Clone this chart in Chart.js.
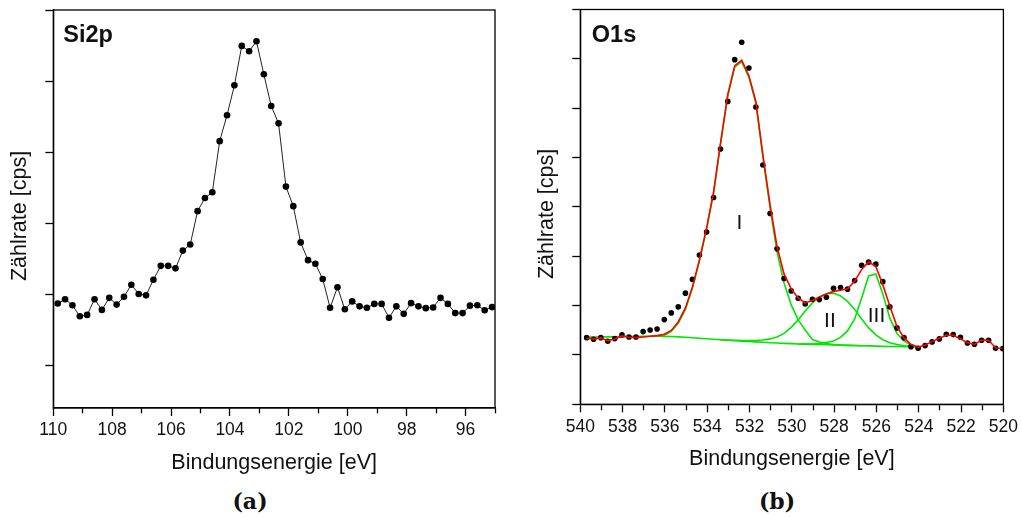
<!DOCTYPE html>
<html>
<head>
<meta charset="utf-8">
<script src="https://cdn.jsdelivr.net/npm/chart.js@4.4.1/dist/chart.umd.min.js"></script>
<style>
  html, body { margin: 0; padding: 0; background: #fff; }
  body { width: 1022px; height: 517px; position: relative; overflow: hidden; }
  .panel { position: absolute; top: 0; height: 480px; }
  #panelA { left: 0; width: 510px; }
  #panelB { left: 510px; width: 512px; }
  .caption {
    position: absolute; top: 488px; line-height: 26px;
    font: bold 22px "DejaVu Serif", serif; color: #111;
    transform: translateX(-50%);
  }
</style>
</head>
<body>
<div class="panel" id="panelA"><canvas id="si2p" width="510" height="480"></canvas></div>
<div class="panel" id="panelB"><canvas id="o1s" width="512" height="480"></canvas></div>
<div class="caption" style="left:250px">(a)</div>
<div class="caption" style="left:777px">(b)</div>
<script>
// --- Si2p region -----------------------------------------------------------
const si2pEnergy = [109.85, 109.60, 109.35, 109.10, 108.85, 108.60, 108.35, 108.10, 107.85, 107.60,
  107.35, 107.10, 106.85, 106.60, 106.35, 106.10, 105.85, 105.60, 105.35, 105.10,
  104.85, 104.60, 104.35, 104.10, 103.85, 103.60, 103.35, 103.10, 102.85, 102.60,
  102.35, 102.10, 101.85, 101.60, 101.35, 101.10, 100.85, 100.60, 100.35, 100.10,
  99.85, 99.60, 99.35, 99.10, 98.85, 98.60, 98.35, 98.10, 97.85, 97.60,
  97.35, 97.10, 96.85, 96.60, 96.35, 96.10, 95.85, 95.60, 95.35, 95.10];
const si2pCounts = [1870, 1930, 1845, 1690, 1710, 1930, 1780, 1950, 1855, 1965,
  2135, 2005, 1985, 2205, 2400, 2400, 2365, 2615, 2700, 3170,
  3355, 3435, 4155, 4520, 4940, 5495, 5420, 5560, 5095, 4650,
  4405, 3515, 3240, 2730, 2480, 2430, 2215, 1810, 2100, 1790,
  1900, 1830, 1810, 1865, 1865, 1670, 1830, 1725, 1875, 1830,
  1805, 1815, 1950, 1865, 1735, 1735, 1840, 1845, 1775, 1820];
const si2pRange = [95, 110];
const si2pCountRange = [400, 6000];
const si2pCountTicks = [1000, 2000, 3000, 4000, 5000, 6000];

// --- O1s region: measured points, fit envelope, background and components ---
const o1sEnergy = [539.70, 539.37, 539.03, 538.70, 538.37, 538.03, 537.70, 537.37, 537.03, 536.70,
  536.37, 536.03, 535.70, 535.37, 535.03, 534.70, 534.37, 534.03, 533.70, 533.37,
  533.03, 532.70, 532.37, 532.03, 531.70, 531.37, 531.03, 530.70, 530.37, 530.03,
  529.70, 529.37, 529.03, 528.70, 528.37, 528.03, 527.70, 527.37, 527.03, 526.70,
  526.37, 526.03, 525.70, 525.37, 525.03, 524.70, 524.37, 524.03, 523.70, 523.37,
  523.03, 522.70, 522.37, 522.03, 521.70, 521.37, 521.03, 520.70, 520.37, 520.03];
const o1sCounts = [1351, 1318, 1351, 1278, 1331, 1406, 1365, 1365, 1473, 1507,
  1527, 1716, 1852, 1974, 2252, 2531, 3024, 3489, 4191, 5172,
  6138, 6984, 7335, 6815, 6024, 4848, 3866, 3150, 2548, 2298,
  2150, 2034, 2130, 2122, 2170, 2353, 2365, 2333, 2507, 2819,
  2880, 2840, 2485, 1974, 1548, 1351, 1168, 1136, 1189, 1264,
  1325, 1420, 1412, 1359, 1243, 1217, 1298, 1298, 1136, 1128];
const o1sEnvelope = [1339, 1325, 1345, 1290, 1325, 1385, 1359, 1351, 1365, 1379,
  1391, 1420, 1497, 1669, 1953, 2379, 2927, 3576, 4306, 5300,
  6274, 6862, 6970, 6659, 6132, 5057, 4043, 3197, 2643, 2339,
  2156, 2055, 2105, 2176, 2237, 2288, 2312, 2339, 2491, 2734,
  2886, 2791, 2420, 1994, 1574, 1345, 1213, 1156, 1203, 1270,
  1339, 1400, 1400, 1325, 1249, 1217, 1298, 1304, 1142, 1136];
// Shirley background over the fitted window (first 48 energies)
const o1sBackground = [1361, 1363, 1365, 1367, 1369, 1371, 1373, 1375, 1377, 1379,
  1379, 1377, 1373, 1367, 1359, 1349, 1339, 1329, 1318, 1308,
  1298, 1288, 1280, 1272, 1264, 1256, 1247, 1241, 1235, 1229,
  1223, 1219, 1215, 1211, 1207, 1203, 1199, 1195, 1191, 1187,
  1183, 1179, 1174, 1172, 1170, 1168, 1166, 1164];
// components (background included); each starts at the given energy index
const o1sPeakIStart = 9;
const o1sPeakI = [1379, 1385, 1402, 1477, 1639, 1923, 2349, 2897, 3546, 4276,
  5270, 6243, 6832, 6943, 6629, 6101, 5016, 3982, 3089, 2460,
  2014, 1710, 1507, 1314, 1264, 1231, 1213, 1201, 1195, 1191, 1187];
const o1sPeakIIStart = 19;
const o1sPeakII = [1308, 1304, 1298, 1294, 1292, 1294, 1304, 1325, 1365, 1436,
  1558, 1710, 1892, 2055, 2176, 2241, 2252, 2197, 2085, 1923,
  1730, 1548, 1406, 1308, 1247, 1211, 1187, 1174, 1166];
const o1sPeakIIIStart = 30;
const o1sPeakIII = [1223, 1223, 1223, 1233, 1254, 1284, 1355, 1487, 1730, 2156,
  2602, 2643, 2237, 1751, 1436, 1284, 1203, 1172];
const o1sRange = [520, 540];
const o1sCountRange = [0, 8000];
const o1sCountTicks = [0, 1000, 2000, 3000, 4000, 5000, 6000, 7000, 8000];

const peakNames = ['I', 'II', 'III'];
const peakNameEnergy = [532.48, 528.2, 526.0];
const peakNameCounts = [3660, 1690, 1790];

const yTitle = 'Zählrate [cps]';
const xTitle = 'Bindungsenergie [eV]';

const FONT = '"Liberation Sans", Arial, sans-serif';
Chart.defaults.font.family = FONT;
Chart.defaults.color = '#111';

const pairs = (xs, ys, from = 0) => ys.map((y, i) => ({ x: xs[from + i], y }));

// box around the plot area, spectrum name, y title and peak names
const decorations = {
  id: 'decorations',
  afterDraw(chart, args, opts) {
    const { ctx, chartArea: a } = chart;
    ctx.save();
    ctx.strokeStyle = '#000';
    ctx.lineWidth = 1.3;
    ctx.strokeRect(a.left, a.top, a.right - a.left, a.bottom - a.top);

    ctx.fillStyle = '#111';
    ctx.font = 'bold 23.5px ' + FONT;
    ctx.textAlign = 'left';
    ctx.textBaseline = 'alphabetic';
    ctx.fillText(opts.name, a.left + opts.nameDx, a.top + 32);

    ctx.save();
    ctx.font = '21.5px ' + FONT;
    ctx.textAlign = 'center';
    ctx.textBaseline = 'middle';
    ctx.translate(a.left - 33, (a.top + a.bottom) / 2 + 7);
    ctx.rotate(-Math.PI / 2);
    ctx.fillText(yTitle, 0, 0);
    ctx.restore();

    if (opts.peaks) {
      const { x, y } = chart.scales;
      ctx.font = '21px ' + FONT;
      ctx.textAlign = 'center';
      ctx.textBaseline = 'middle';
      peakNames.forEach((label, i) => {
        ctx.fillText(label, x.getPixelForValue(peakNameEnergy[i]), y.getPixelForValue(peakNameCounts[i]));
      });
    }
    ctx.restore();
  }
};

function makeOptions(cfg) {
  return {
    responsive: false,
    animation: false,
    devicePixelRatio: 1,
    events: [],
    layout: { padding: { left: 0, top: cfg.top, right: cfg.right, bottom: 0 } },
    plugins: {
      legend: { display: false },
      tooltip: { enabled: false },
      decorations: { name: cfg.name, nameDx: cfg.nameDx, peaks: cfg.peaks }
    },
    scales: {
      x: {
        type: 'linear',
        reverse: true,
        min: cfg.xRange[0],
        max: cfg.xRange[1],
        afterFit: s => { s.height = cfg.xAxisHeight; },
        border: { display: true, color: '#000', width: 1.3 },
        grid: {
          drawOnChartArea: false,
          drawTicks: true,
          tickLength: 8,
          tickColor: '#000',
          tickWidth: 1.3,
          // odd values get a short minor tick
          tickBorderDash: c => (c.tick && c.tick.value % 2 !== 0) ? [5, 40] : []
        },
        ticks: {
          stepSize: 1,
          autoSkip: false,
          maxRotation: 0,
          padding: 4,
          color: '#111',
          font: { size: 17.5 },
          callback: v => (v % 2 === 0 ? String(v) : '')
        },
        title: {
          display: true,
          text: xTitle,
          color: '#111',
          font: { size: 21.5 },
          padding: { top: 0, bottom: cfg.xTitlePad }
        }
      },
      y: {
        type: 'linear',
        min: cfg.yRange[0],
        max: cfg.yRange[1],
        afterFit: s => { s.width = cfg.yAxisWidth; },
        afterBuildTicks: s => { s.ticks = cfg.yTicks.map(value => ({ value })); },
        border: { display: true, color: '#000', width: 1.3 },
        grid: {
          drawOnChartArea: false,
          drawTicks: true,
          tickLength: 8,
          tickColor: '#000',
          tickWidth: 1.3
        },
        ticks: { display: false }
      }
    }
  };
}

new Chart(document.getElementById('si2p'), {
  type: 'scatter',
  data: {
    datasets: [{
      data: pairs(si2pEnergy, si2pCounts),
      showLine: true,
      borderColor: '#222',
      borderWidth: 1,
      pointRadius: 3.3,
      pointBorderWidth: 0,
      pointBackgroundColor: '#000',
      tension: 0
    }]
  },
  options: makeOptions({
    name: 'Si2p', nameDx: 10, peaks: false,
    xRange: si2pRange, yRange: si2pCountRange, yTicks: si2pCountTicks,
    top: 10, right: 15, yAxisWidth: 53.3, xAxisHeight: 72, xTitlePad: 4.4
  }),
  plugins: [decorations]
});

const green = '#00e600';
const fitLine = (data, color, order) => ({
  data, showLine: true, borderColor: color, borderWidth: 1.6,
  pointRadius: 0, tension: 0, order
});

new Chart(document.getElementById('o1s'), {
  type: 'scatter',
  data: {
    datasets: [
      fitLine(pairs(o1sEnergy, o1sEnvelope), '#ff0000', 0),
      {
        data: pairs(o1sEnergy, o1sCounts),
        showLine: false,
        pointRadius: 2.8,
        pointBorderWidth: 0,
        pointBackgroundColor: '#000',
        order: 1
      },
      fitLine(pairs(o1sEnergy, o1sBackground), green, 2),
      fitLine(pairs(o1sEnergy, o1sPeakI, o1sPeakIStart), green, 2),
      fitLine(pairs(o1sEnergy, o1sPeakII, o1sPeakIIStart), green, 2),
      fitLine(pairs(o1sEnergy, o1sPeakIII, o1sPeakIIIStart), green, 2)
    ]
  },
  options: makeOptions({
    name: 'O1s', nameDx: 11.5, peaks: true,
    xRange: o1sRange, yRange: o1sCountRange, yTicks: o1sCountTicks,
    top: 9.5, right: 17, yAxisWidth: 70.3, xAxisHeight: 75.7, xTitlePad: 7.8
  }),
  plugins: [decorations]
});
</script>
</body>
</html>
